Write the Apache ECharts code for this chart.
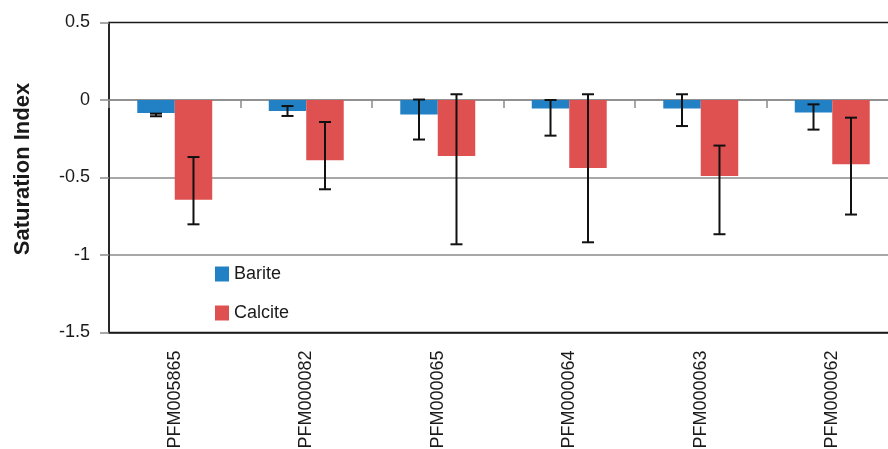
<!DOCTYPE html>
<html>
<head>
<meta charset="utf-8">
<script src="https://cdn.jsdelivr.net/npm/echarts@6/dist/echarts.min.js"></script>
<style>
  html, body { margin: 0; padding: 0; background: #fff; }
  #chart { width: 888px; height: 449px; }
</style>
</head>
<body>
<div id="chart"></div>
<script>
// Sample identifiers along the category axis
const samples = ['PFM005865', 'PFM000082', 'PFM000065', 'PFM000064', 'PFM000063', 'PFM000062'];

// Mean saturation index per mineral
const bariteSI  = [-0.084, -0.071, -0.094, -0.055, -0.055, -0.081];
const calciteSI = [-0.643, -0.389, -0.361, -0.439, -0.490, -0.415];

// Error bar extents (low / high) per mineral
const bariteLow   = [-0.105, -0.103, -0.255, -0.230, -0.168, -0.191];
const bariteHigh  = [-0.088, -0.039,  0.003,  0.000,  0.037, -0.028];
const calciteLow  = [-0.802, -0.576, -0.931, -0.918, -0.866, -0.739];
const calciteHigh = [-0.368, -0.142,  0.037,  0.037, -0.294, -0.114];

// Y axis ticks
const yMin = -1.5, yMax = 0.5, yStep = 0.5;

const FONT = '"Liberation Sans", Arial, Helvetica, sans-serif';
const BLUE = '#2281c4';
const RED = '#df5050';
const BAR_FRAC = 0.285; // bar width as a share of the category band

function errorSeries(name, low, high, side) {
  return {
    type: 'custom',
    name: name + ' error',
    xAxisIndex: 0,
    yAxisIndex: 0,
    z: 5,
    silent: true,
    data: samples.map((s, i) => [i, low[i], high[i]]),
    encode: { x: 0, y: [1, 2] },
    renderItem: function (params, api) {
      const idx = api.value(0);
      const band = api.size([1, 0])[0];
      const off = side * band * BAR_FRAC / 2;
      const pLow = api.coord([idx, api.value(1)]);
      const pHigh = api.coord([idx, api.value(2)]);
      const x = pLow[0] + off;
      const cap = 6;
      const style = { stroke: '#111', lineWidth: 2 };
      return {
        type: 'group',
        children: [
          { type: 'line', shape: { x1: x, y1: pHigh[1], x2: x, y2: pLow[1] }, style: style },
          { type: 'line', shape: { x1: x - cap, y1: pHigh[1], x2: x + cap, y2: pHigh[1] }, style: style },
          { type: 'line', shape: { x1: x - cap, y1: pLow[1], x2: x + cap, y2: pLow[1] }, style: style }
        ]
      };
    }
  };
}

const chart = echarts.init(document.getElementById('chart'), null, { renderer: 'canvas' });

chart.setOption({
  animation: false,
  backgroundColor: '#ffffff',
  textStyle: { fontFamily: FONT },
  grid: {
    left: 109, top: 22.5, height: 310, width: 789,
    outerBoundsMode: 'none',
    show: true, borderColor: '#1a1a1a', borderWidth: 1.5,
    containLabel: false
  },
  legend: {
    orient: 'vertical',
    left: 215, top: 265,
    padding: 0,
    icon: 'rect',
    itemWidth: 14, itemHeight: 15,
    itemGap: 21,
    textStyle: { fontSize: 18, color: '#1a1a1a', fontFamily: FONT },
    data: ['Barite', 'Calcite']
  },
  xAxis: [
    {
      type: 'category',
      data: samples,
      position: 'bottom',
      axisLine: { onZero: false, lineStyle: { color: '#1a1a1a', width: 1.5 } },
      axisTick: { show: false },
      axisLabel: {
        rotate: 90, fontSize: 18, color: '#1a1a1a', margin: 18,
        fontFamily: FONT, interval: 0
      },
      splitLine: { show: false }
    },
    {
      // zero baseline with band separators
      type: 'category',
      data: samples,
      position: 'top',
      axisLine: { onZero: true, lineStyle: { color: '#8a8a8a', width: 1.5 } },
      axisTick: { show: true, inside: true, length: 8, lineStyle: { color: '#8a8a8a', width: 1.5 } },
      axisLabel: { show: false },
      splitLine: { show: false }
    }
  ],
  yAxis: {
    type: 'value',
    min: yMin, max: yMax, interval: yStep,
    axisLine: { show: true, lineStyle: { color: '#1a1a1a', width: 1.5 } },
    axisTick: { show: true, length: 9, lineStyle: { color: '#8a8a8a', width: 1.5 } },
    axisLabel: {
      fontSize: 18, color: '#1a1a1a', margin: 19, fontFamily: FONT,
      formatter: v => String(Math.round(v * 10) / 10)
    },
    splitLine: {
      show: true, showMinLine: false, showMaxLine: false,
      lineStyle: { color: '#8a8a8a', width: 1.5 }
    }
  },
  graphic: [
    {
      type: 'text',
      x: 23, y: 169,
      rotation: Math.PI / 2,
      style: {
        text: 'Saturation Index',
        font: 'bold 22px ' + FONT,
        fill: '#1a1a1a',
        align: 'center',
        verticalAlign: 'middle'
      }
    }
  ],
  series: [
    {
      name: 'Barite', type: 'bar', data: bariteSI,
      barWidth: (BAR_FRAC * 100) + '%', barGap: '0%',
      itemStyle: { color: BLUE }
    },
    {
      name: 'Calcite', type: 'bar', data: calciteSI,
      barWidth: (BAR_FRAC * 100) + '%', barGap: '0%',
      itemStyle: { color: RED }
    },
    errorSeries('Barite', bariteLow, bariteHigh, -1),
    errorSeries('Calcite', calciteLow, calciteHigh, 1)
  ]
});
</script>
</body>
</html>
